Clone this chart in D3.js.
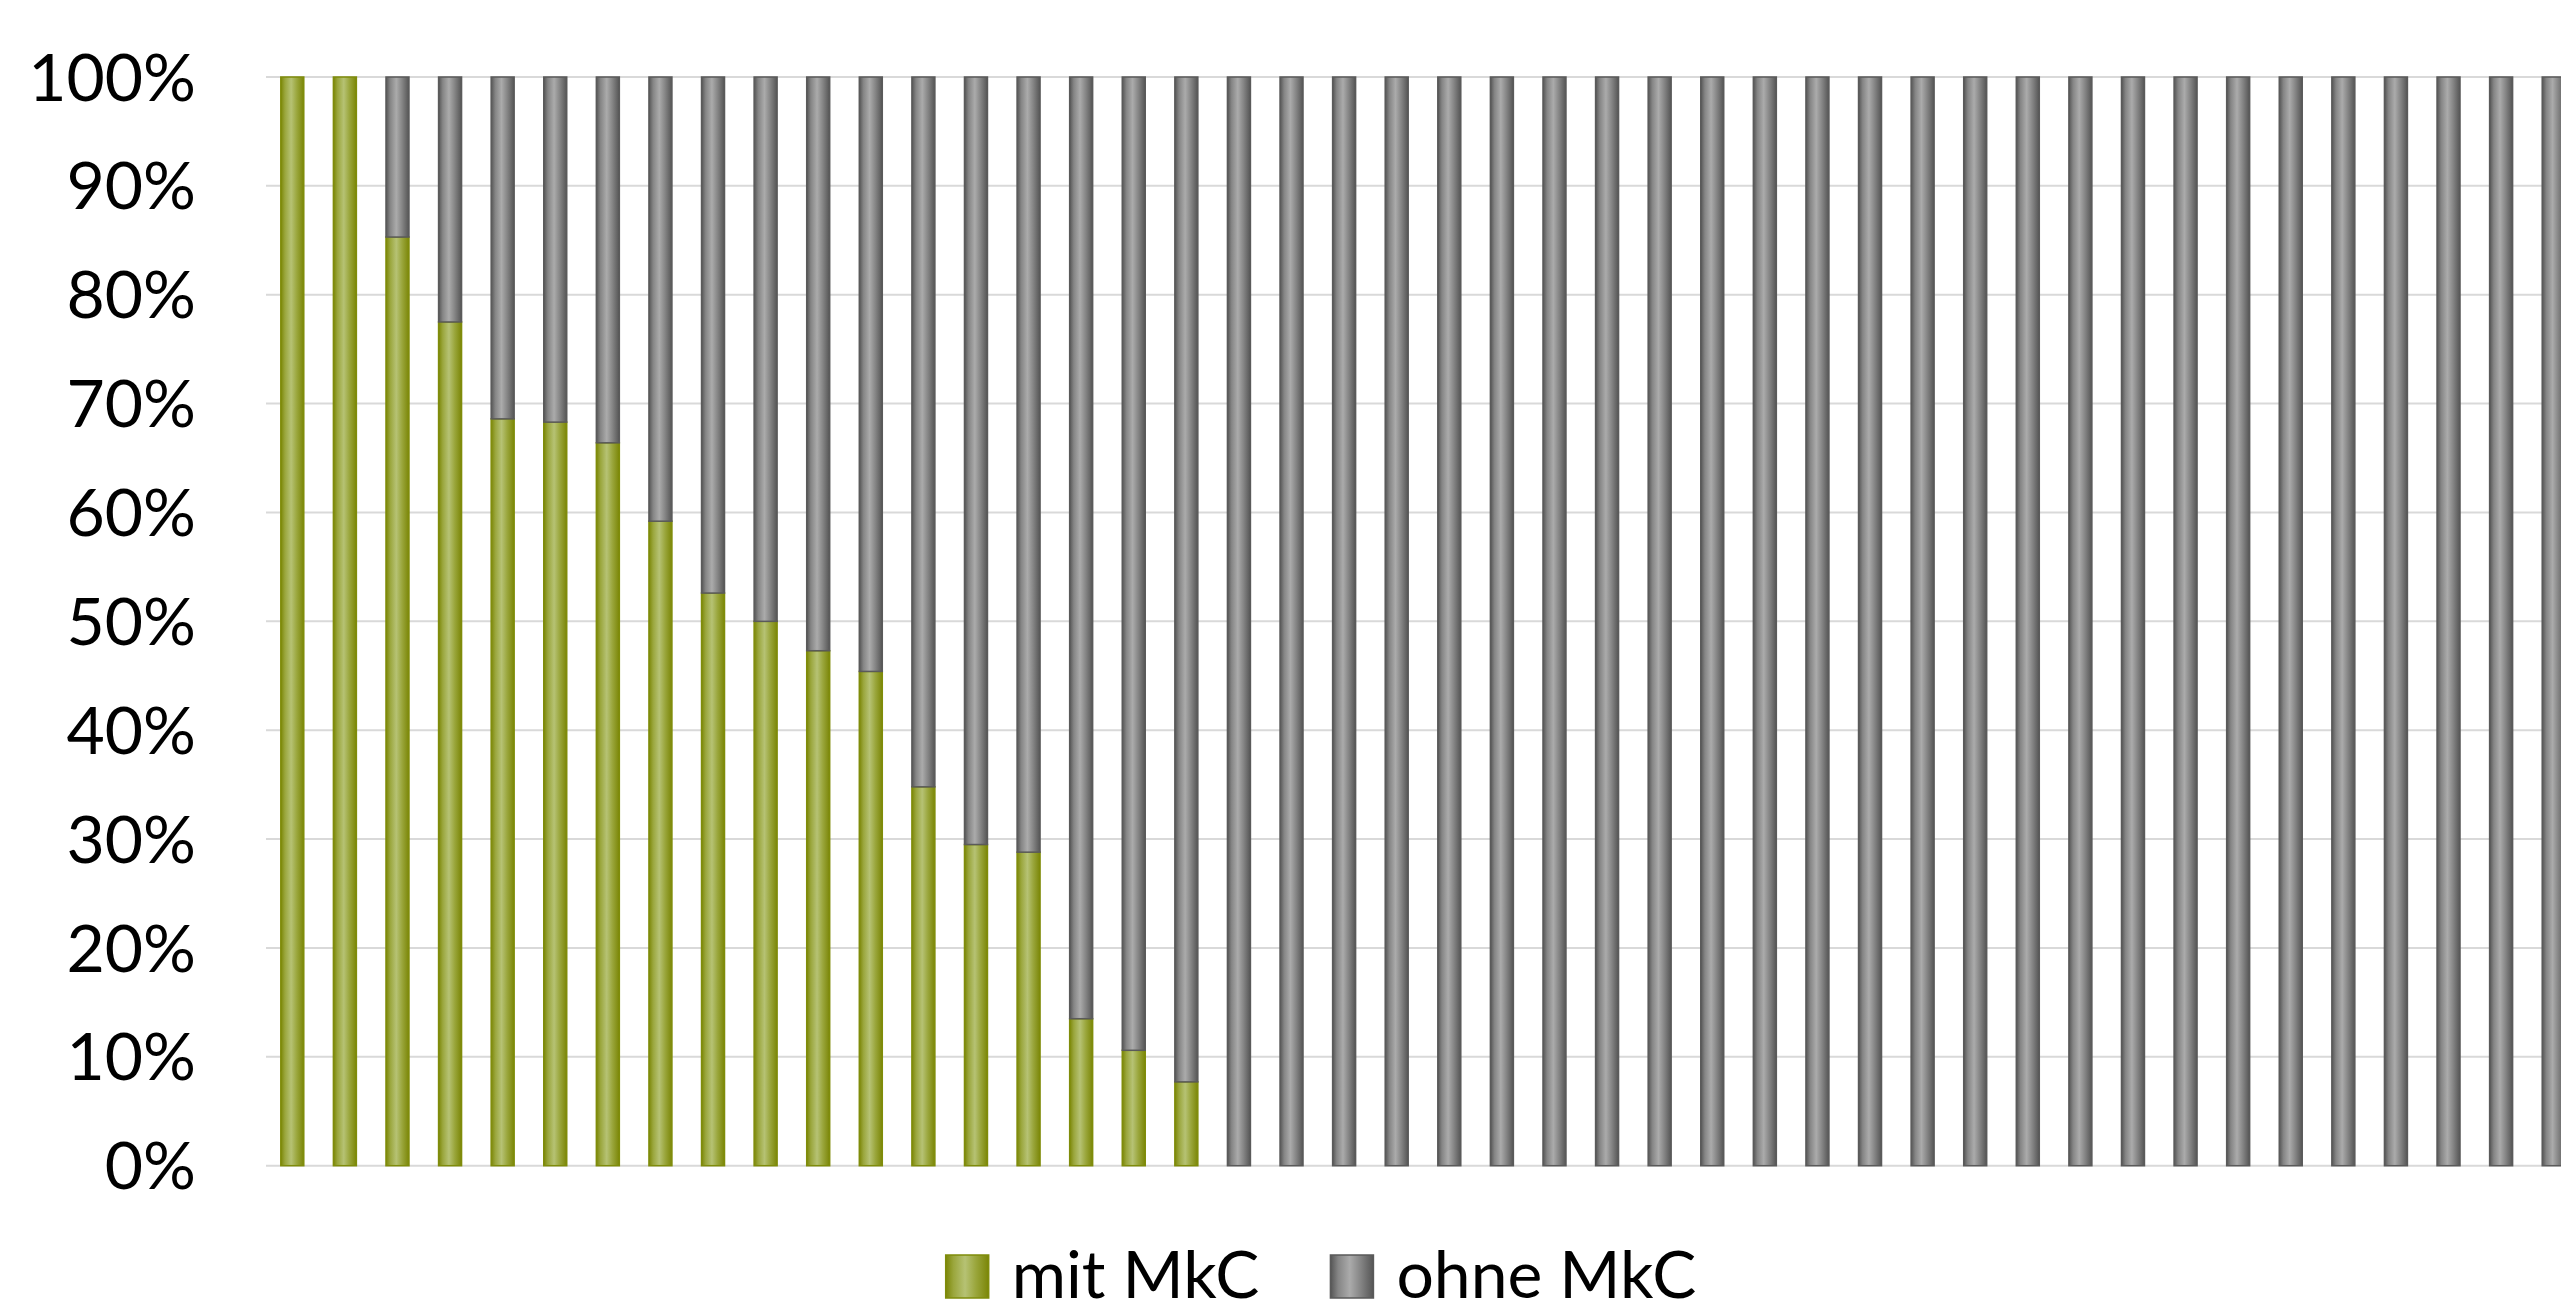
<!DOCTYPE html>
<html>
<head>
<meta charset="utf-8">
<script src="https://cdn.jsdelivr.net/npm/d3@7"></script>
<style>
  html, body { margin: 0; padding: 0; background: #ffffff; overflow: hidden; }
  svg { display: block; }
</style>
</head>
<body>
<svg id="chart" width="2561" height="1302"></svg>
<script>
// ---- data ----
const categories = d3.range(1, 45).map(String);
const mitMkC = [100, 100, 85.3, 77.5, 68.6, 68.3, 66.4, 59.2, 52.6, 50.0, 47.3, 45.4, 34.8, 29.5, 28.8, 13.5, 10.6, 7.7,
  0, 0, 0, 0, 0, 0, 0, 0, 0, 0, 0, 0, 0, 0, 0, 0, 0, 0, 0, 0, 0, 0, 0, 0, 0, 0];
const ohneMkC = mitMkC.map(v => 100 - v);
const seriesNames = ["mit MkC", "ohne MkC"];
const yTicks = [0, 10, 20, 30, 40, 50, 60, 70, 80, 90, 100];

// ---- layout ----
const W = 2561, H = 1302;
const plot = { left: 266, right: 2580, top: 77, bottom: 1165.7 };
const FONT = "Lato, 'Open Sans', sans-serif";

const svg = d3.select("#chart");
const defs = svg.append("defs");

function hGrad(id, edge, mid, light) {
  const g = defs.append("linearGradient").attr("id", id)
    .attr("x1", "0%").attr("x2", "100%").attr("y1", "0%").attr("y2", "0%");
  g.append("stop").attr("offset", "0%").attr("stop-color", edge);
  g.append("stop").attr("offset", "18%").attr("stop-color", mid);
  g.append("stop").attr("offset", "45%").attr("stop-color", light);
  g.append("stop").attr("offset", "70%").attr("stop-color", mid);
  g.append("stop").attr("offset", "100%").attr("stop-color", edge);
}
hGrad("gGreen", "#7b8607", "#9aa63c", "#b6c274");
hGrad("gGray", "#555555", "#858585", "#ababab");

const colors = {
  "mit MkC": { fill: "url(#gGreen)", stroke: "#7f8c0a" },
  "ohne MkC": { fill: "url(#gGray)", stroke: "#5a5a5a" }
};

const x = d3.scaleBand().domain(categories).range([plot.left, plot.right])
  .paddingInner(0.563).paddingOuter(0.2815);
const y = d3.scaleLinear().domain([0, 100]).range([plot.bottom, plot.top]);

// gridlines
svg.append("g").selectAll("line").data(yTicks).join("line")
  .attr("x1", plot.left).attr("x2", W + 50)
  .attr("y1", d => y(d)).attr("y2", d => y(d))
  .attr("stroke", "#d9d9d9").attr("stroke-width", 2);

// y axis labels via d3 axis
const yAxis = d3.axisLeft(y).tickValues(yTicks).tickFormat(d => d + "%").tickSize(0).tickPadding(0);
const yg = svg.append("g").attr("transform", `translate(196,0)`).call(yAxis);
yg.select(".domain").remove();
yg.selectAll("text").attr("font-family", FONT).attr("font-size", 66).attr("fill", "#000")
  .attr("dy", "0.35em");

// stacked data
const rows = categories.map((c, i) => ({ cat: c, "mit MkC": mitMkC[i], "ohne MkC": ohneMkC[i] }));
const stack = d3.stack().keys(seriesNames)(rows);

const barsG = svg.append("g");
stack.forEach(layer => {
  const key = layer.key;
  barsG.append("g").selectAll("rect")
    .data(layer.filter(d => d[1] - d[0] > 0))
    .join("rect")
    .attr("x", d => x(d.data.cat))
    .attr("width", x.bandwidth())
    .attr("y", d => y(d[1]))
    .attr("height", d => y(d[0]) - y(d[1]))
    .attr("fill", colors[key].fill)
    .attr("stroke", colors[key].stroke)
    .attr("stroke-width", 1.5);
});

// legend
const legend = svg.append("g");
const sq = 43, gapTxt = 23, gapItem = 71;
let cx = 0;
const items = seriesNames.map(name => {
  const g = legend.append("g");
  g.append("rect").attr("x", 0).attr("y", -sq).attr("width", sq).attr("height", sq)
    .attr("fill", colors[name].fill).attr("stroke", colors[name].stroke).attr("stroke-width", 1.5);
  const t = g.append("text").attr("x", sq + gapTxt).attr("y", 0)
    .attr("font-family", FONT).attr("font-size", 66).attr("fill", "#000").text(name);
  const w = sq + gapTxt + t.node().getComputedTextLength();
  g.attr("transform", `translate(${cx},0)`);
  cx += w + gapItem;
  return w;
});
const totalW = cx - gapItem;
legend.attr("transform", `translate(${1321 - totalW / 2},1298)`);
</script>
</body>
</html>
